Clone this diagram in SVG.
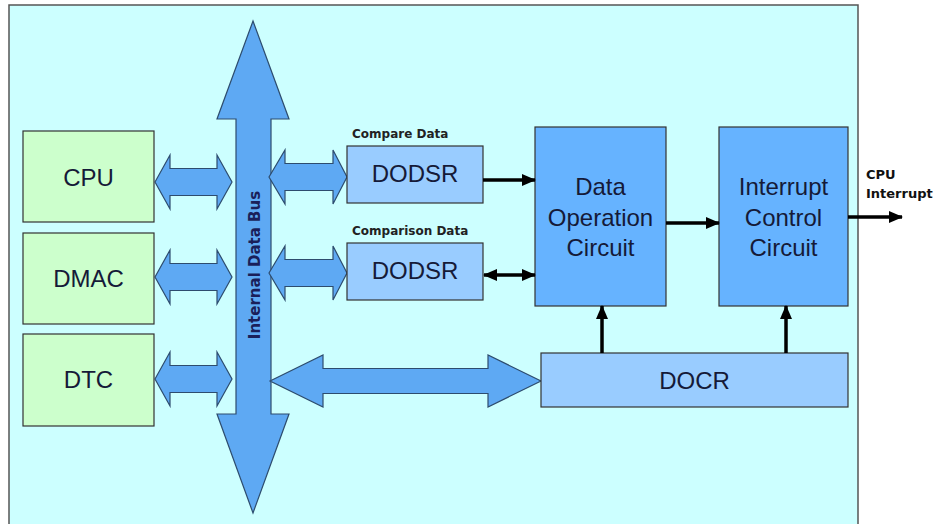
<svg xmlns="http://www.w3.org/2000/svg" width="935" height="524" viewBox="0 0 935 524">
  <style>
    .panel { fill: #ccffff; stroke: #555; stroke-width: 1.5; }
    .master { fill: #ccffcc; stroke: #333; stroke-width: 1.2; }
    .reg { fill: #99ccff; stroke: #333; stroke-width: 1.2; }
    .circ { fill: #66b3ff; stroke: #333; stroke-width: 1.2; }
    .bus { fill: #5ea9f3; stroke: #2d4c6e; stroke-width: 1.2; stroke-linejoin: miter; }
    .big { font-family: "Liberation Sans", Arial, sans-serif; font-size: 24px; fill: #151a38; text-anchor: middle; }
    .lbl { font-family: "DejaVu Sans", Verdana, sans-serif; font-weight: bold; font-size: 12px; fill: #222; }
    .out { font-family: "DejaVu Sans", Verdana, sans-serif; font-weight: bold; font-size: 13px; fill: #111; }
    .buslbl { font-family: "DejaVu Sans", Verdana, sans-serif; font-weight: bold; font-size: 15px; fill: #1a1f5a; text-anchor: middle; }
    .wire { stroke: #000; stroke-width: 3.5; fill: none; }
  </style>
  <defs>
    <marker id="head" markerUnits="userSpaceOnUse" markerWidth="14" markerHeight="12" refX="13" refY="6" orient="auto-start-reverse">
      <path d="M0,0 L14,6 L0,12 Z" fill="#000"/>
    </marker>
  </defs>

  <!-- background panel -->
  <rect class="panel" x="9" y="5" width="849" height="530"/>

  <!-- internal data bus and its wide double arrows -->
  <g id="bus">
    <polygon class="bus" points="253,21 289,119 271,119 271,414 289,414 253,513 217,414 236,414 236,119 217,119"/>
    <text class="buslbl" transform="translate(260,265) rotate(-90)">Internal Data Bus</text>
  </g>

  <g id="bus-links">
    <!-- CPU / DMAC / DTC to bus -->
    <polygon class="bus" points="155,182 170,155 170,168.5 217,168.5 217,155 232,182 217,209 217,195.5 170,195.5 170,209"/>
    <polygon class="bus" points="155,277 170,250 170,263.5 217,263.5 217,250 232,277 217,304 217,290.5 170,290.5 170,304"/>
    <polygon class="bus" points="155,379 170,352 170,365.5 217,365.5 217,352 232,379 217,406 217,392.5 170,392.5 170,406"/>
    <!-- bus to DODSR registers -->
    <polygon class="bus" points="269,177 285,150 285,163.5 333,163.5 333,150 347,177 333,204 333,190.5 285,190.5 285,204"/>
    <polygon class="bus" points="269,273 285,246 285,259.5 333,259.5 333,246 347,273 333,300 333,286.5 285,286.5 285,300"/>
    <!-- bus to DOCR -->
    <polygon class="bus" points="270,381 323,355 323,368.5 488,368.5 488,355 541,381 488,407 488,393.5 323,393.5 323,407"/>
  </g>

  <!-- bus masters -->
  <g id="cpu">
    <rect class="master" x="23" y="131" width="131" height="91"/>
    <text class="big" x="88.5" y="186">CPU</text>
  </g>
  <g id="dmac">
    <rect class="master" x="23" y="233" width="131" height="91"/>
    <text class="big" x="88.5" y="287">DMAC</text>
  </g>
  <g id="dtc">
    <rect class="master" x="23" y="334" width="131" height="92"/>
    <text class="big" x="88.5" y="388">DTC</text>
  </g>

  <!-- data registers -->
  <g id="dodsr-compare">
    <text class="lbl" x="352" y="138">Compare Data</text>
    <rect class="reg" x="347" y="146" width="136" height="57"/>
    <text class="big" x="415" y="182">DODSR</text>
  </g>
  <g id="dodsr-comparison">
    <text class="lbl" x="352" y="235">Comparison Data</text>
    <rect class="reg" x="347" y="243" width="136" height="57"/>
    <text class="big" x="415" y="279">DODSR</text>
  </g>

  <!-- circuits -->
  <g id="data-operation-circuit">
    <rect class="circ" x="535" y="127" width="131" height="179"/>
    <text class="big" x="600.5" y="195">Data</text>
    <text class="big" x="600.5" y="226">Operation</text>
    <text class="big" x="600.5" y="256">Circuit</text>
  </g>
  <g id="interrupt-control-circuit">
    <rect class="circ" x="719" y="127" width="129" height="179"/>
    <text class="big" x="783.5" y="195">Interrupt</text>
    <text class="big" x="783.5" y="226">Control</text>
    <text class="big" x="783.5" y="256">Circuit</text>
  </g>

  <!-- control register -->
  <g id="docr">
    <rect class="reg" x="541" y="353" width="307" height="54"/>
    <text class="big" x="694.5" y="389">DOCR</text>
  </g>

  <!-- output label -->
  <g id="cpu-interrupt">
    <text class="out" x="866" y="179">CPU</text>
    <text class="out" x="866" y="198">Interrupt</text>
  </g>

  <!-- signal connectors -->
  <g id="connectors">
    <line class="wire" x1="483" y1="180" x2="535" y2="180" marker-end="url(#head)"/>
    <line class="wire" x1="484" y1="275" x2="535" y2="275" marker-start="url(#head)" marker-end="url(#head)"/>
    <line class="wire" x1="666" y1="223" x2="719" y2="223" marker-end="url(#head)"/>
    <line class="wire" x1="848" y1="217" x2="902" y2="217" marker-end="url(#head)"/>
    <line class="wire" x1="602" y1="353" x2="602" y2="306" marker-end="url(#head)"/>
    <line class="wire" x1="786" y1="353" x2="786" y2="306" marker-end="url(#head)"/>
  </g>
</svg>
